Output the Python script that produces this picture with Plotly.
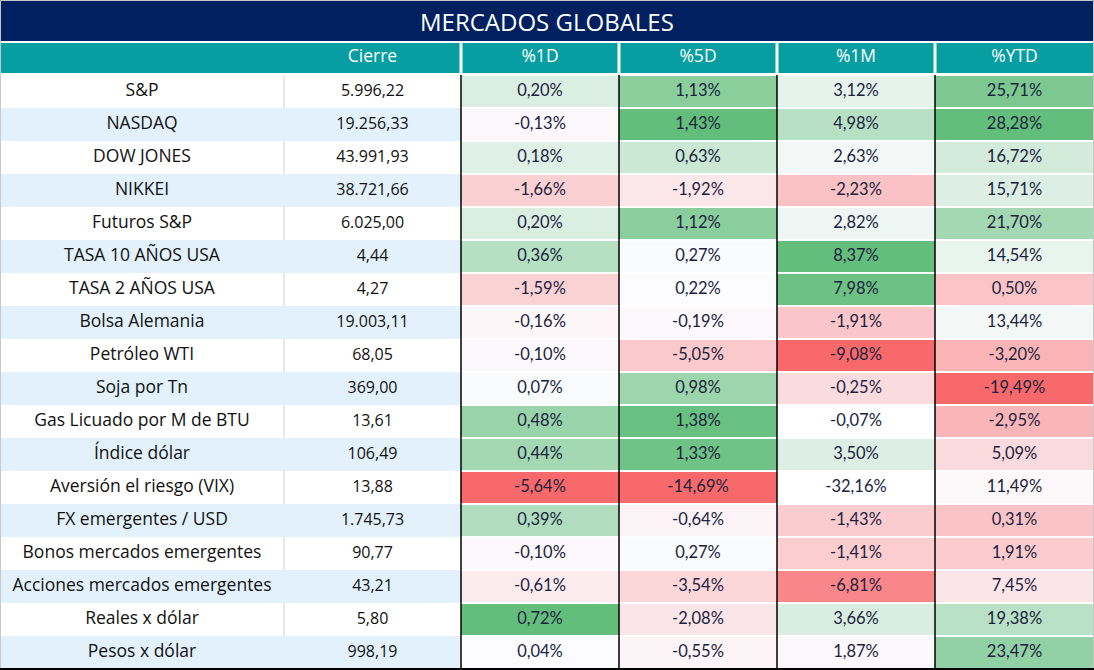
import numpy as np
import plotly.graph_objects as go

# ---------------- data ----------------
titulo = "MERCADOS GLOBALES"
encabezados = ["", "Cierre", "%1D", "%5D", "%1M", "%YTD"]
nombres = [
    "S&P", "NASDAQ", "DOW JONES", "NIKKEI", "Futuros S&P", "TASA 10 AÑOS USA",
    "TASA 2 AÑOS USA", "Bolsa Alemania", "Petróleo WTI", "Soja por Tn",
    "Gas Licuado por M de BTU", "Índice dólar", "Aversión el riesgo (VIX)",
    "FX emergentes / USD", "Bonos mercados emergentes", "Acciones mercados emergentes",
    "Reales x dólar", "Pesos x dólar",
]
cierre = [5996.22, 19256.33, 43991.93, 38721.66, 6025.00, 4.44, 4.27, 19003.11, 68.05,
          369.00, 13.61, 106.49, 13.88, 1745.73, 90.77, 43.21, 5.80, 998.19]
var_1d = [0.20, -0.13, 0.18, -1.66, 0.20, 0.36, -1.59, -0.16, -0.10, 0.07, 0.48, 0.44,
          -5.64, 0.39, -0.10, -0.61, 0.72, 0.04]
var_5d = [1.13, 1.43, 0.63, -1.92, 1.12, 0.27, 0.22, -0.19, -5.05, 0.98, 1.38, 1.33,
          -14.69, -0.64, 0.27, -3.54, -2.08, -0.55]
var_1m = [3.12, 4.98, 2.63, -2.23, 2.82, 8.37, 7.98, -1.91, -9.08, -0.25, -0.07, 3.50,
          -32.16, -1.43, -1.41, -6.81, 3.66, 1.87]
var_ytd = [25.71, 28.28, 16.72, 15.71, 21.70, 14.54, 0.50, 13.44, -3.20, -19.49, -2.95,
           5.09, 11.49, 0.31, 1.91, 7.45, 19.38, 23.47]
# cells left without conditional colouring in the original
sin_formato = {"%1M": ["Gas Licuado por M de BTU", "Aversión el riesgo (VIX)"]}

# ---------------- styles / geometry ----------------
W, H = 1094, 670
col_edges = [0, 284, 461, 619, 777, 935, 1094]
title_h = 41
head_top, head_bot = 43, 73
row_top, row_h = 75, 33
NAVY = "#002060"
TEAL = "#069EA1"
STRIPE = "#E3F1FC"
FONT_TXT = "Open Sans"
FONT_PCT = "Lato"

n = len(nombres)
pct_cols = {"%1D": var_1d, "%5D": var_5d, "%1M": var_1m, "%YTD": var_ytd}


def fmt_num(v, dec=2):
    s = f"{v:,.{dec}f}"
    return s.replace(",", "X").replace(".", ",").replace("X", ".")


# Excel-like 3-colour scale: min red, median white, max green (per column)
z = np.full((n, 4), np.nan)
for j, (col, vals) in enumerate(pct_cols.items()):
    excl = set(sin_formato.get(col, []))
    idx = [i for i in range(n) if nombres[i] not in excl]
    arr = np.array([vals[i] for i in idx])
    med, lo, hi = np.median(arr), arr.min(), arr.max()
    for i in idx:
        v = vals[i]
        z[i, j] = (v - med) / (hi - med) if v >= med else (v - med) / (med - lo)

row_edges = [row_top + row_h * i for i in range(n + 1)]
row_mid = [row_top + row_h * i + row_h / 2 for i in range(n)]
centers = [(col_edges[k] + col_edges[k + 1]) / 2 for k in range(6)]

fig = go.Figure()

fig.add_trace(go.Heatmap(
    x=col_edges[2:], y=row_edges, z=z.tolist(), zmin=-1, zmax=1,
    colorscale=[[0, "#F8696B"], [0.5, "#FCFCFF"], [1, "#63BE7B"]],
    showscale=False, ygap=2, hoverinfo="skip",
))

# names
fig.add_trace(go.Scatter(
    x=[centers[0]] * n, y=row_mid, mode="text", text=nombres,
    textfont=dict(family=FONT_TXT, size=17.5, color="#111111"), hoverinfo="skip",
))
# cierre
fig.add_trace(go.Scatter(
    x=[centers[1]] * n, y=row_mid, mode="text", text=[fmt_num(v) for v in cierre],
    textfont=dict(family=FONT_TXT, size=16, color="#111111"), hoverinfo="skip",
))
# percentages
for j, (col, vals) in enumerate(pct_cols.items()):
    fig.add_trace(go.Scatter(
        x=[centers[2 + j]] * n, y=row_mid, mode="text",
        text=[fmt_num(v) + "%" for v in vals],
        textfont=dict(family=FONT_PCT, size=16.5, color="#1B2340"), hoverinfo="skip",
    ))
# header texts
fig.add_trace(go.Scatter(
    x=centers[1:], y=[(head_top + head_bot) / 2] * 5, mode="text", text=encabezados[1:],
    textfont=dict(family=FONT_TXT, size=17.5, color="white"), hoverinfo="skip",
))

shapes = []
shapes.append(dict(type="rect", x0=0, x1=W, y0=0, y1=title_h, fillcolor=NAVY,
                   line_width=0, layer="below"))
shapes.append(dict(type="rect", x0=0, x1=W, y0=head_top, y1=head_bot, fillcolor=TEAL,
                   line_width=0, layer="below"))
for i in range(n):
    if i % 2 == 1:
        shapes.append(dict(type="rect", x0=0, x1=col_edges[2], y0=row_edges[i],
                           y1=row_edges[i + 1], fillcolor=STRIPE, line_width=0,
                           layer="below"))
    else:
        shapes.append(dict(type="line", x0=col_edges[1], x1=col_edges[1],
                           y0=row_edges[i], y1=row_edges[i + 1],
                           line=dict(color="#D9D9D9", width=1.2), layer="above"))
for x in col_edges[2:-1]:
    shapes.append(dict(type="line", x0=x, x1=x, y0=head_top, y1=head_bot,
                       line=dict(color="white", width=3), layer="above"))
for x in col_edges[2:-1]:
    shapes.append(dict(type="line", x0=x, x1=x, y0=row_top, y1=H,
                       line=dict(color="#000000", width=1.5), layer="above"))
shapes.append(dict(type="rect", x0=0.5, x1=W - 0.5, y0=0.5, y1=H - 0.5,
                   line=dict(color="#C8C8C8", width=1), layer="above"))
shapes.append(dict(type="line", x0=0, x1=W, y0=H - 1, y1=H - 1,
                   line=dict(color="#000000", width=2), layer="above"))

fig.update_layout(
    width=W, height=H, margin=dict(l=0, r=0, t=0, b=0),
    paper_bgcolor="white", plot_bgcolor="white", showlegend=False,
    xaxis=dict(range=[0, W], visible=False, fixedrange=True),
    yaxis=dict(range=[H, 0], visible=False, fixedrange=True),
    shapes=shapes,
    annotations=[dict(x=W / 2, y=title_h / 2 + 1, xref="x", yref="y", text=titulo,
                      showarrow=False,
                      font=dict(family=FONT_TXT, size=24, color="white"))],
)

fig.write_html("out.html", config={"displayModeBar": False},
               post_script="document.body.style.margin='0';document.body.style.overflow='hidden';")
